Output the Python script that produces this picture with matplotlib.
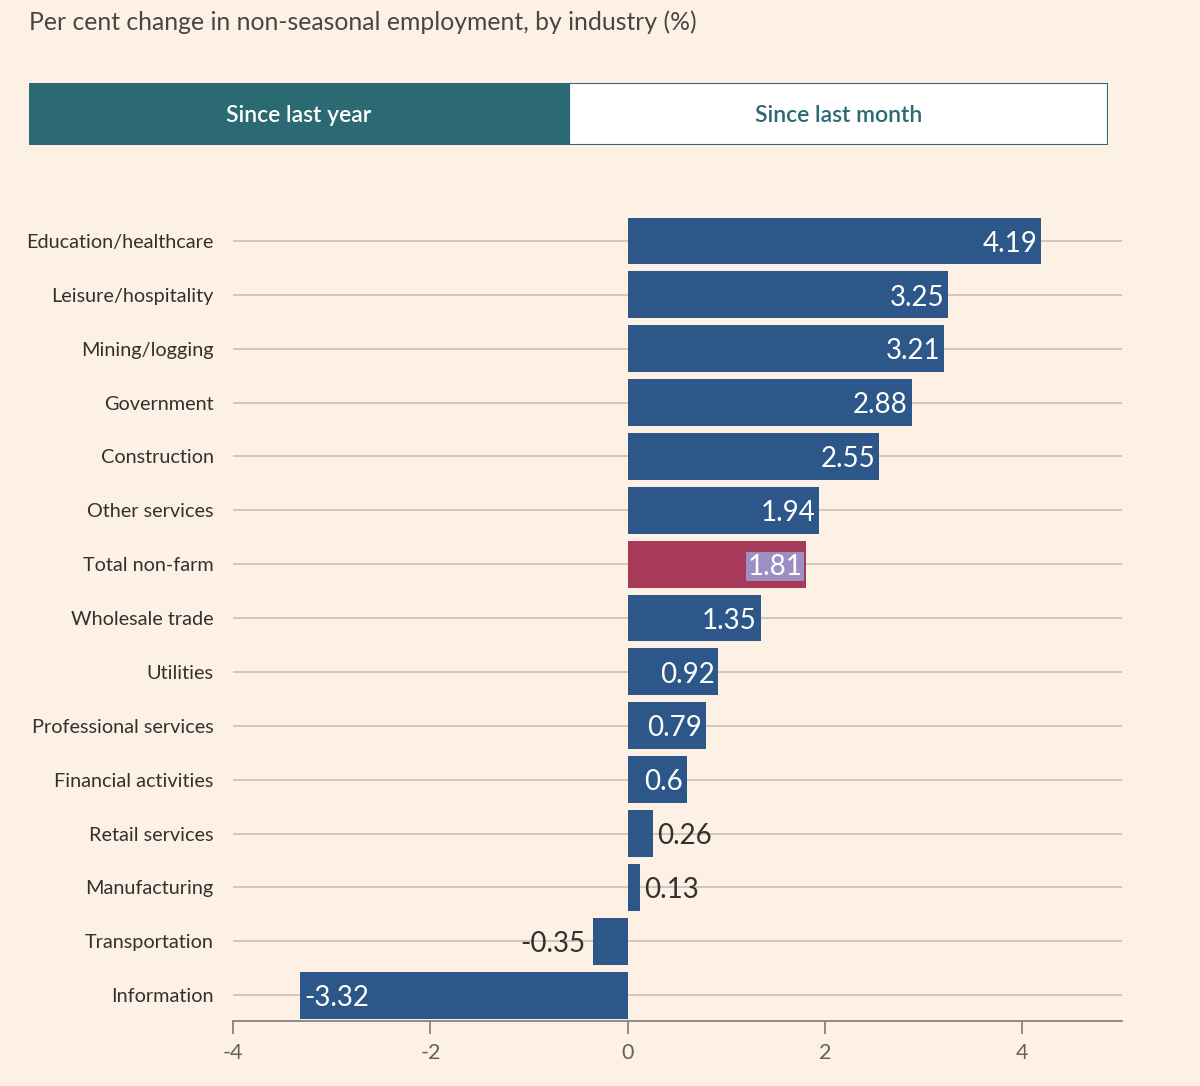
import matplotlib.pyplot as plt
import numpy as np
from matplotlib.patches import Rectangle

plt.rcParams['font.family'] = ['Lato', 'DejaVu Sans']

industries = ["Education/healthcare", "Leisure/hospitality", "Mining/logging", "Government",
              "Construction", "Other services", "Total non-farm", "Wholesale trade", "Utilities",
              "Professional services", "Financial activities", "Retail services",
              "Manufacturing", "Transportation", "Information"]
change = [4.19, 3.25, 3.21, 2.88, 2.55, 1.94, 1.81, 1.35, 0.92, 0.79, 0.6, 0.26, 0.13, -0.35, -3.32]
highlight = "Total non-farm"
xticks = [-4, -2, 0, 2, 4]

bg = '#fdf1e6'
blue = '#2c5788'
red = '#a63a58'
teal = '#2b6a72'
text_col = '#33302e'
grid_col = '#cdc3ba'

fig = plt.figure(figsize=(12, 10.86), dpi=100, facecolor=bg)

# title
fig.text(29 / 1200, 1 - 22 / 1086, "Per cent change in non-seasonal employment, by industry (%)",
         fontsize=17.8, color='#4a4542', va='center', ha='left')

# toggle buttons
bax = fig.add_axes([29 / 1200, 1 - 145 / 1086, (1108 - 29) / 1200, 62 / 1086])
bax.set_xlim(0, 1)
bax.set_ylim(0, 1)
bax.axis('off')
bax.add_patch(Rectangle((0.5, 0), 0.5, 1, facecolor='white', edgecolor=teal, lw=1.5))
bax.add_patch(Rectangle((0, 0), 0.5, 1, facecolor=teal, edgecolor=teal, lw=1.5))
bax.text(0.25, 0.47, "Since last year", color='white', fontsize=16.5, fontweight='semibold',
         ha='center', va='center')
bax.text(0.75, 0.47, "Since last month", color=teal, fontsize=16.5, fontweight='semibold',
         ha='center', va='center')

# main chart
ax = fig.add_axes([233 / 1200, 1 - 1021 / 1086, (1122 - 233) / 1200, (1021 - 214) / 1086])
ax.set_facecolor(bg)
y = np.arange(len(industries))
colors = [red if name == highlight else blue for name in industries]
ax.barh(y, change, height=0.87, color=colors, zorder=3)

dy = 0.05
for yi, v, name in zip(y, change, industries):
    label = f"{v:g}"
    box = None
    if name == highlight:
        box = dict(facecolor='#9c90c2', edgecolor='none', pad=1)
    if abs(v) >= 0.5:
        if v > 0:
            ax.text(v - 0.04, yi + dy, label, ha='right', va='center', color='white', fontsize=20,
                    zorder=4, bbox=box)
        else:
            ax.text(v + 0.04, yi + dy, label, ha='left', va='center', color='white', fontsize=20,
                    zorder=4, bbox=box)
    else:
        if v > 0:
            ax.text(v + 0.04, yi + dy, label, ha='left', va='center', color=text_col, fontsize=20,
                    zorder=4)
        else:
            ax.text(v - 0.08, yi + dy, label, ha='right', va='center', color=text_col, fontsize=20,
                    zorder=4)

ax.set_xlim(-4, 5.01)
ax.set_ylim(len(industries) - 0.52, -0.5)
ax.set_yticks(y)
ax.set_yticklabels(industries, fontsize=14.3, color=text_col)
ax.tick_params(axis='y', length=0, pad=14)
ax.set_xticks(xticks)
ax.set_xticklabels([str(t) for t in xticks], fontsize=15.5, color='#66605c')
ax.tick_params(axis='x', length=9, width=1.3, color='#8a827c', pad=7)
ax.grid(axis='y', color=grid_col, lw=1.3, zorder=1)
for s in ['top', 'right', 'left']:
    ax.spines[s].set_visible(False)
ax.spines['bottom'].set_color('#8a827c')
ax.spines['bottom'].set_linewidth(1.3)
ax.spines['bottom'].set_bounds(-4, 5.01)

fig.savefig('out.png', dpi=100, facecolor=bg)
